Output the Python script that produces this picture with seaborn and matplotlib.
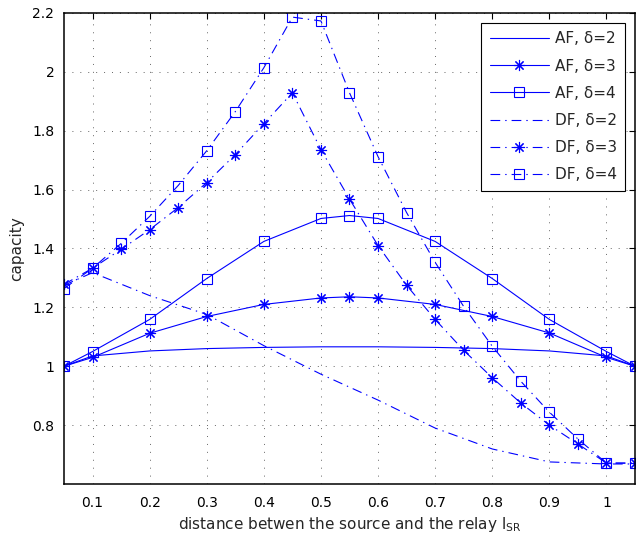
import matplotlib
matplotlib.use('Agg')
import matplotlib.pyplot as plt
import seaborn as sns

# AF curves (sampled at 0.1 steps plus the peak at 0.55)
x_af = [0.05, 0.1, 0.2, 0.3, 0.4, 0.5, 0.55, 0.6, 0.7, 0.8, 0.9, 1.0, 1.05]
af_d2 = [1.0, 1.035, 1.052, 1.06, 1.064, 1.066, 1.066, 1.066, 1.064, 1.06, 1.052, 1.035, 1.0]
af_d3 = [1.0, 1.03, 1.112, 1.169, 1.21, 1.232, 1.236, 1.232, 1.21, 1.169, 1.113, 1.03, 1.0]
af_d4 = [1.0, 1.05, 1.159, 1.298, 1.424, 1.502, 1.512, 1.502, 1.424, 1.298, 1.159, 1.05, 1.0]

# DF curves
x_df2 = [0.05, 0.1, 0.2, 0.3, 0.4, 0.5, 0.6, 0.7, 0.8, 0.9, 1.0, 1.05]
df_d2 = [1.275, 1.318, 1.24, 1.176, 1.07, 0.973, 0.885, 0.79, 0.719, 0.675, 0.668, 0.668]
x_df = [0.05, 0.1, 0.15, 0.2, 0.25, 0.3, 0.35, 0.4, 0.45, 0.5, 0.55,
        0.6, 0.65, 0.7, 0.75, 0.8, 0.85, 0.9, 0.95, 1.0, 1.05]
df_d3 = [1.278, 1.333, 1.397, 1.464, 1.539, 1.624, 1.719, 1.824, 1.929, 1.736, 1.568,
         1.41, 1.275, 1.159, 1.054, 0.961, 0.875, 0.8, 0.736, 0.671, 0.671]
df_d4 = [1.264, 1.333, 1.417, 1.509, 1.614, 1.732, 1.865, 2.014, 2.186, 2.173, 1.929,
         1.712, 1.522, 1.353, 1.203, 1.068, 0.949, 0.844, 0.753, 0.671, 0.671]

x_ticks = [0.1, 0.2, 0.3, 0.4, 0.5, 0.6, 0.7, 0.8, 0.9, 1.0]
y_ticks = [0.8, 1.0, 1.2, 1.4, 1.6, 1.8, 2.0, 2.2]
x_tick_labels = ['0.1', '0.2', '0.3', '0.4', '0.5', '0.6', '0.7', '0.8', '0.9', '1']
y_tick_labels = ['0.8', '1', '1.2', '1.4', '1.6', '1.8', '2', '2.2']

sns.set_style('white')
plt.rcParams['font.family'] = ['DejaVu Sans']
plt.rcParams['lines.scale_dashes'] = False
plt.rcParams['mathtext.fontset'] = 'dejavusans'

fig = plt.figure(figsize=(6.38, 5.37), dpi=100)
ax = fig.add_axes([0.1003, 0.0987, 0.8950, 0.8771])

blue = (0, 0, 1)
dashdot = (0, (7, 3.6, 1, 3.6))
asterisk = (8, 2, 0)
lw = 0.8

series = [
    (x_af, af_d2, 'AF, δ=2', '-', None),
    (x_af, af_d3, 'AF, δ=3', '-', asterisk),
    (x_af, af_d4, 'AF, δ=4', '-', 's'),
    (x_df2, df_d2, 'DF, δ=2', dashdot, None),
    (x_df, df_d3, 'DF, δ=3', dashdot, asterisk),
    (x_df, df_d4, 'DF, δ=4', dashdot, 's'),
]

for xs, ys, label, ls, mk in series:
    kw = dict(color=blue, linewidth=lw, linestyle=ls, label=label)
    if mk is not None:
        kw.update(marker=mk, markersize=7.5 if mk == 's' else 8,
                  markerfacecolor='none', markeredgecolor=blue, markeredgewidth=0.8)
    sns.lineplot(x=xs, y=ys, ax=ax, estimator=None, sort=False, **kw)

ax.set_xlim(0.05, 1.05)
ax.set_ylim(0.6, 2.2)
ax.set_xticks(x_ticks)
ax.set_xticklabels(x_tick_labels)
ax.set_yticks(y_ticks)
ax.set_yticklabels(y_tick_labels)

ax.grid(True, color='0.3', linestyle=(0, (0.7, 5)), linewidth=0.6)
ax.tick_params(direction='in', length=4, width=0.8, top=True, right=True,
               labelsize=10, colors='black')
ax.tick_params(axis='x', pad=9)
ax.tick_params(axis='y', pad=7)
for sp in ax.spines.values():
    sp.set_color('black')
    sp.set_linewidth(1.1)
    sp.set_visible(True)

ax.set_xlabel('distance betwen the source and the relay l$_{\\mathregular{SR}}$', fontsize=11, labelpad=3)
ax.set_ylabel('capacity', fontsize=11, labelpad=6)

leg = ax.legend(loc='upper right', fontsize=11, frameon=True, fancybox=False,
                edgecolor='black', framealpha=1, handlelength=3.9, handletextpad=0.35,
                labelspacing=0.8, borderpad=0.55, borderaxespad=0.65)
leg.get_frame().set_linewidth(0.8)

fig.savefig('out.png', dpi=100)
plt.close(fig)
